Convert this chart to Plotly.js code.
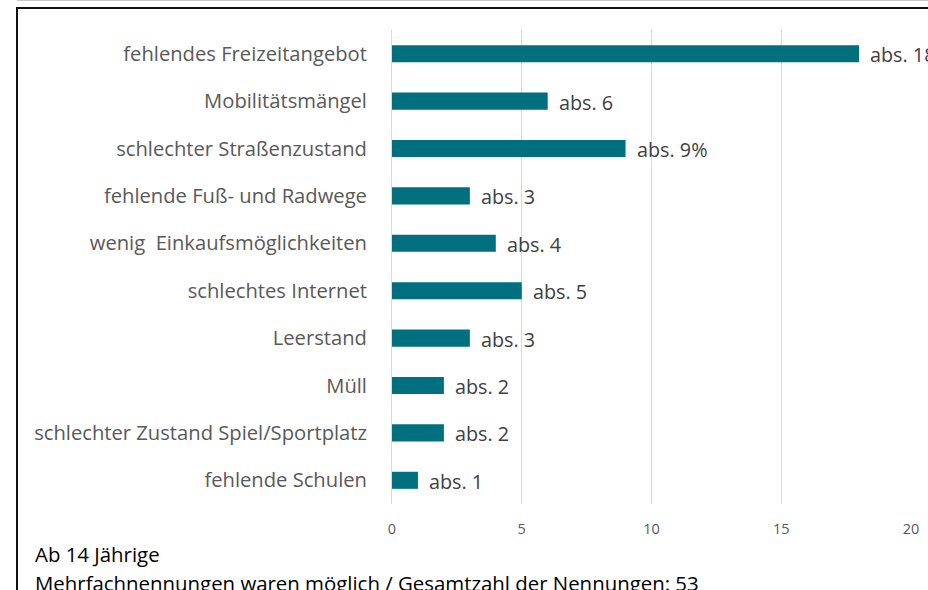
<!DOCTYPE html>
<html>
<head>
<meta charset="utf-8">
<script src="https://cdn.plot.ly/plotly-3.0.1.min.js"></script>
<style>
  html, body { margin: 0; padding: 0; background: #ffffff; overflow: hidden; }
  #wrap { position: relative; width: 928px; height: 590px; }
  #chart { position: absolute; left: 0; top: 0; width: 928px; height: 590px; }
  #topline { position: absolute; left: 17px; top: 0; width: 911px; height: 1px; background: #c8c8c8; }
  #frame { position: absolute; left: 16px; top: 7px; width: 930px; height: 600px;
           border-left: 2px solid #111; border-top: 2px solid #111; pointer-events: none; }
</style>
</head>
<body>
<div id="wrap">
  <div id="chart"></div>
  <div id="topline"></div>
  <div id="frame"></div>
</div>
<script>
const categories = [
  "fehlendes Freizeitangebot",
  "Mobilitätsmängel",
  "schlechter Straßenzustand",
  "fehlende Fuß- und Radwege",
  "wenig  Einkaufsmöglichkeiten",
  "schlechtes Internet",
  "Leerstand",
  "Müll",
  "schlechter Zustand Spiel/Sportplatz",
  "fehlende Schulen"
];
const values = [18, 6, 9, 3, 4, 5, 3, 2, 2, 1];
const barLabels = ["abs. 18", "abs. 6", "abs. 9%", "abs. 3", "abs. 4", "abs. 5", "abs. 3", "abs. 2", "abs. 2", "abs. 1"];
const xTicks = [0, 5, 10, 15, 20];
const noteLines = ["Ab 14 Jährige", "Mehrfachnennungen waren möglich / Gesamtzahl der Nennungen: 53"];

const FONT = "Open Sans, Noto Sans, DejaVu Sans, sans-serif";
const L = 391.5, R = 16.5, T = 30.3, B = 86.3;
const W = 928, H = 590;
const pw = W - L - R, ph = H - T - B;
const px2x = p => (p - L) / pw;
const py2y = p => (H - B - p) / ph;

const trace = {
  type: "bar",
  orientation: "h",
  x: values,
  y: categories,
  marker: { color: "#00707f" },
  width: 0.36,
  hoverinfo: "x+y"
};

const annotations = categories.map((c, i) => ({
  x: values[i], y: c, xref: "x", yref: "y",
  text: barLabels[i], showarrow: false,
  xanchor: "left", yanchor: "middle", xshift: 9, yshift: -1,
  font: { family: FONT, size: 19.8, color: "#404040" }
}));
annotations.push({
  xref: "paper", yref: "paper", x: px2x(32), y: py2y(554),
  xanchor: "left", yanchor: "middle", showarrow: false,
  text: noteLines[0], font: { family: FONT, size: 20.4, color: "#000000" }
});
annotations.push({
  xref: "paper", yref: "paper", x: px2x(32), y: py2y(583),
  xanchor: "left", yanchor: "middle", showarrow: false,
  text: noteLines[1], font: { family: FONT, size: 20.4, color: "#000000" }
});

const layout = {
  width: W, height: H,
  margin: { l: L, r: R, t: T, b: B, pad: 0 },
  paper_bgcolor: "rgba(0,0,0,0)",
  plot_bgcolor: "rgba(0,0,0,0)",
  showlegend: false,
  xaxis: {
    range: [0, 20],
    tickvals: xTicks,
    ticktext: xTicks.map(String),
    showgrid: true, gridcolor: "#d9d9d9", gridwidth: 1,
    zeroline: false, showline: false, ticks: "",
    ticklabelstandoff: 14,
    tickfont: { family: FONT, size: 14.5, color: "#595959" },
    fixedrange: true
  },
  yaxis: {
    type: "category",
    categoryorder: "array",
    categoryarray: categories.slice().reverse(),
    range: [-0.5, categories.length - 0.5],
    showgrid: false, zeroline: false,
    showline: true, linecolor: "#d9d9d9", linewidth: 1,
    ticks: "", ticklabelstandoff: 20,
    tickfont: { family: FONT, size: 20.2, color: "#595959" },
    fixedrange: true
  },
  annotations: annotations
};

Plotly.newPlot("chart", [trace], layout, { displayModeBar: false, staticPlot: true });
</script>
</body>
</html>
